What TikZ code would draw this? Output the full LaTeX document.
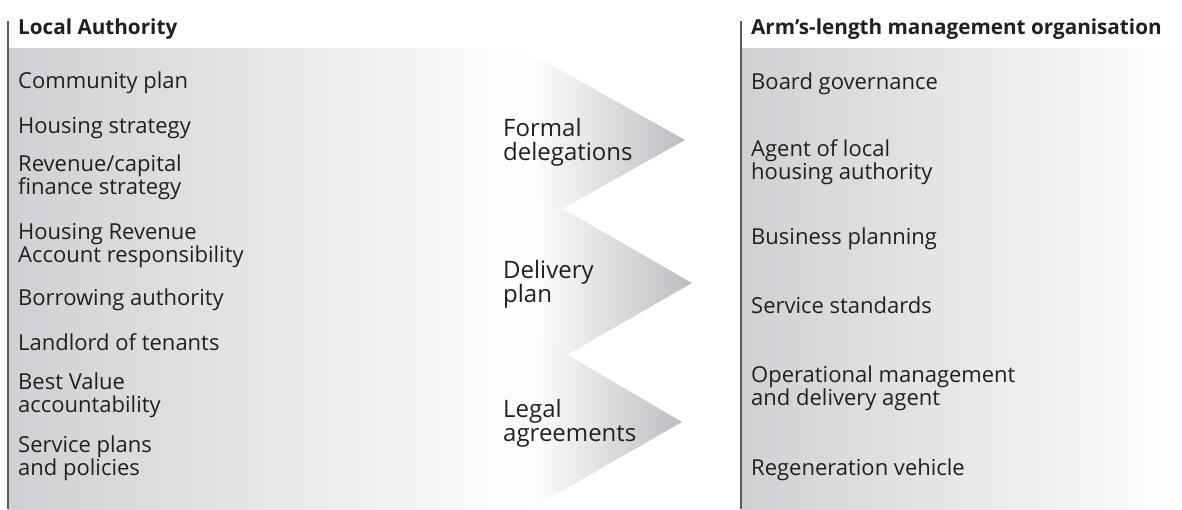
\documentclass[tikz,border=0pt]{standalone}
\usepackage{fontspec}
\setmainfont{Open Sans}
\definecolor{panelgray}{RGB}{207,208,211}
\definecolor{tipgray}{RGB}{188,189,193}
\definecolor{txt}{RGB}{35,31,32}
\definecolor{linegray}{RGB}{90,90,92}
\begin{document}
\begin{tikzpicture}[x=1pt,y=-1pt,
  item/.style={anchor=west,inner sep=0pt,align=left,text=txt,yshift=-3pt,font=\fontsize{22}{23}\selectfont},
  mid/.style={item,font=\fontsize{24}{24}\selectfont},
  head/.style={item,font=\fontsize{20.7}{22}\selectfont\bfseries},
  sideline/.style={draw=linegray,line width=1.6pt}]
\useasboundingbox (0,0) rectangle (1182,509);
% panels
\shade[left color=panelgray,right color=white] (8,48) rectangle (530,509);
\shade[left color=panelgray,right color=white] (741,48) rectangle (1182,509);
\coordinate (l1) at (8,21); \coordinate (l2) at (8,509);
\coordinate (r1) at (741,21); \coordinate (r2) at (741,509);
\draw[sideline] (l1) -- (l2);
\draw[sideline] (r1) -- (r2);
% chevrons
\shade[left color=white,right color=tipgray] (530,53) -- (685,140) -- (530,227) -- cycle;
\shade[left color=white,right color=tipgray] (530,190) -- (692,283) -- (530,376) -- cycle;
\shade[left color=white,right color=tipgray] (530,333) -- (682,422) -- (530,509) -- cycle;
% left texts
\node[head] (lh) at (18,26) {Local Authority};
\node[item] (a1) at (18,80) {Community plan};
\node[item] (a2) at (18,125) {Housing strategy};
\node[item] (a3) at (18,174) {Revenue/capital\\finance strategy};
\node[item] (a4) at (18,243) {Housing Revenue\\Account responsibility};
\node[item] (a5) at (18,297) {Borrowing authority};
\node[item] (a6) at (18,339) {Landlord of tenants};
\node[item] (a7) at (18,392) {Best Value\\accountability};
\node[item] (a8) at (18,455) {Service plans\\and policies};
% middle texts
\node[mid] (m1) at (503,139) {Formal\\delegations};
\node[mid] (m2) at (503,281) {Delivery\\plan};
\node[mid] (m3) at (503,420) {Legal\\agreements};
% right texts
\node[head] (rh) at (751,26) {Arm’s-length management organisation};
\node[item] (b1) at (751,81) {Board governance};
\node[item] (b2) at (751,159) {Agent of local\\housing authority};
\node[item] (b3) at (751,236) {Business planning};
\node[item] (b4) at (751,302) {Service standards};
\node[item] (b5) at (751,385) {Operational management\\and delivery agent};
\node[item] (b6) at (751,467) {Regeneration vehicle};
\end{tikzpicture}
\end{document}
